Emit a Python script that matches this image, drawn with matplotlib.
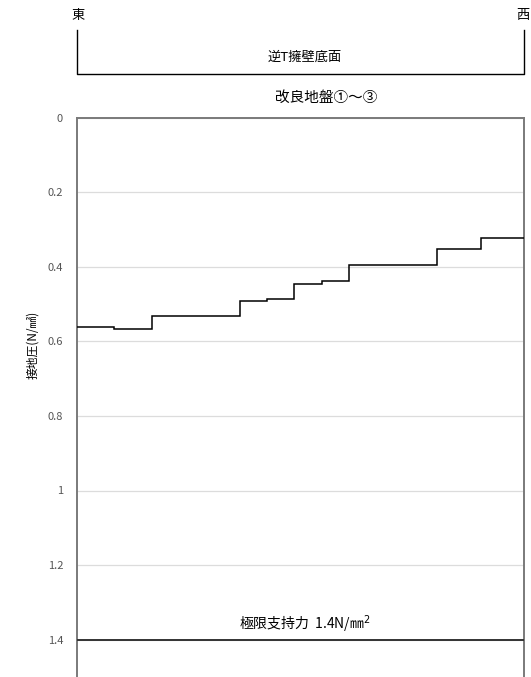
"""
Contact pressure distribution under the inverted-T retaining wall base.
"""
import matplotlib
matplotlib.use('Agg')
import matplotlib.pyplot as plt
import matplotlib.transforms as mtransforms
import numpy as np

plt.rcParams['font.family'] = ['Noto Sans CJK JP', 'DejaVu Sans']

# Step boundaries along the wall base (east -> west) and pressure per segment
x_edges = [0.0, 0.83, 1.67, 3.65, 4.24, 4.86, 5.47, 6.08, 8.05, 9.03, 10.0]
pressure = [0.562, 0.567, 0.531, 0.493, 0.486, 0.447, 0.438, 0.395, 0.352, 0.323]
y_ticks = [0, 0.2, 0.4, 0.6, 0.8, 1.0, 1.2, 1.4]
y_tick_labels = ['0', '0.2', '0.4', '0.6', '0.8', '1', '1.2', '1.4']
ultimate_capacity = 1.4

SPINE_COLOR = '#7a7a7a'
GRID_COLOR = '#dcdcdc'

fig = plt.figure(figsize=(5.31, 6.77), dpi=100)
ax = fig.add_axes([77 / 531, 0.0, (524 - 77) / 531, 1 - 117.5 / 677])

# Pressure steps
ax.stairs(pressure, x_edges, baseline=None, color='black', linewidth=1.1, zorder=3)

# Ultimate bearing capacity line
ax.axhline(ultimate_capacity, color='#333333', linewidth=1.4, zorder=3)
ax.text(0.51, ultimate_capacity - 0.012, '極限支持力  1.4N/㎜$^2$',
        transform=mtransforms.blended_transform_factory(ax.transAxes, ax.transData),
        ha='center', va='bottom', fontsize=10, color='black')

ax.set_xlim(x_edges[0], x_edges[-1])
ax.set_ylim(1.5, 0)
ax.set_xticks([])
ax.set_yticks(y_ticks)
ax.set_yticklabels(y_tick_labels, fontsize=8, color='#555555')
ax.tick_params(axis='y', length=0, pad=10)
ax.grid(axis='y', color=GRID_COLOR, linewidth=0.9, zorder=0)

for side in ['left', 'right', 'top']:
    ax.spines[side].set_color(SPINE_COLOR)
    ax.spines[side].set_linewidth(1.4)
ax.spines['bottom'].set_visible(False)

fig.text(33 / 531, 1 - 345 / 677, '接地圧(N/㎟)', rotation=90,
         ha='center', va='center', fontsize=8.5)

# Wall base bracket above the plot
trans = mtransforms.blended_transform_factory(ax.transAxes, fig.transFigure)
y_top = 1 - 30 / 677
y_bot = 1 - 74 / 677
ax.plot([0, 0, 1, 1], [y_top, y_bot, y_bot, y_top], transform=trans,
        color='black', linewidth=1.0, clip_on=False)

fig.text(78 / 531, 1 - 15 / 677, '東', ha='center', va='center', fontsize=9.5)
fig.text(523 / 531, 1 - 15 / 677, '西', ha='center', va='center', fontsize=9.5)
fig.text(305 / 531, 1 - 57 / 677, '逆T擁壁底面', ha='center', va='center', fontsize=9.5)
fig.text(326 / 531, 1 - 98 / 677, '改良地盤①～③', ha='center', va='center', fontsize=10.5)

fig.savefig('out.png', dpi=100)
plt.close(fig)
